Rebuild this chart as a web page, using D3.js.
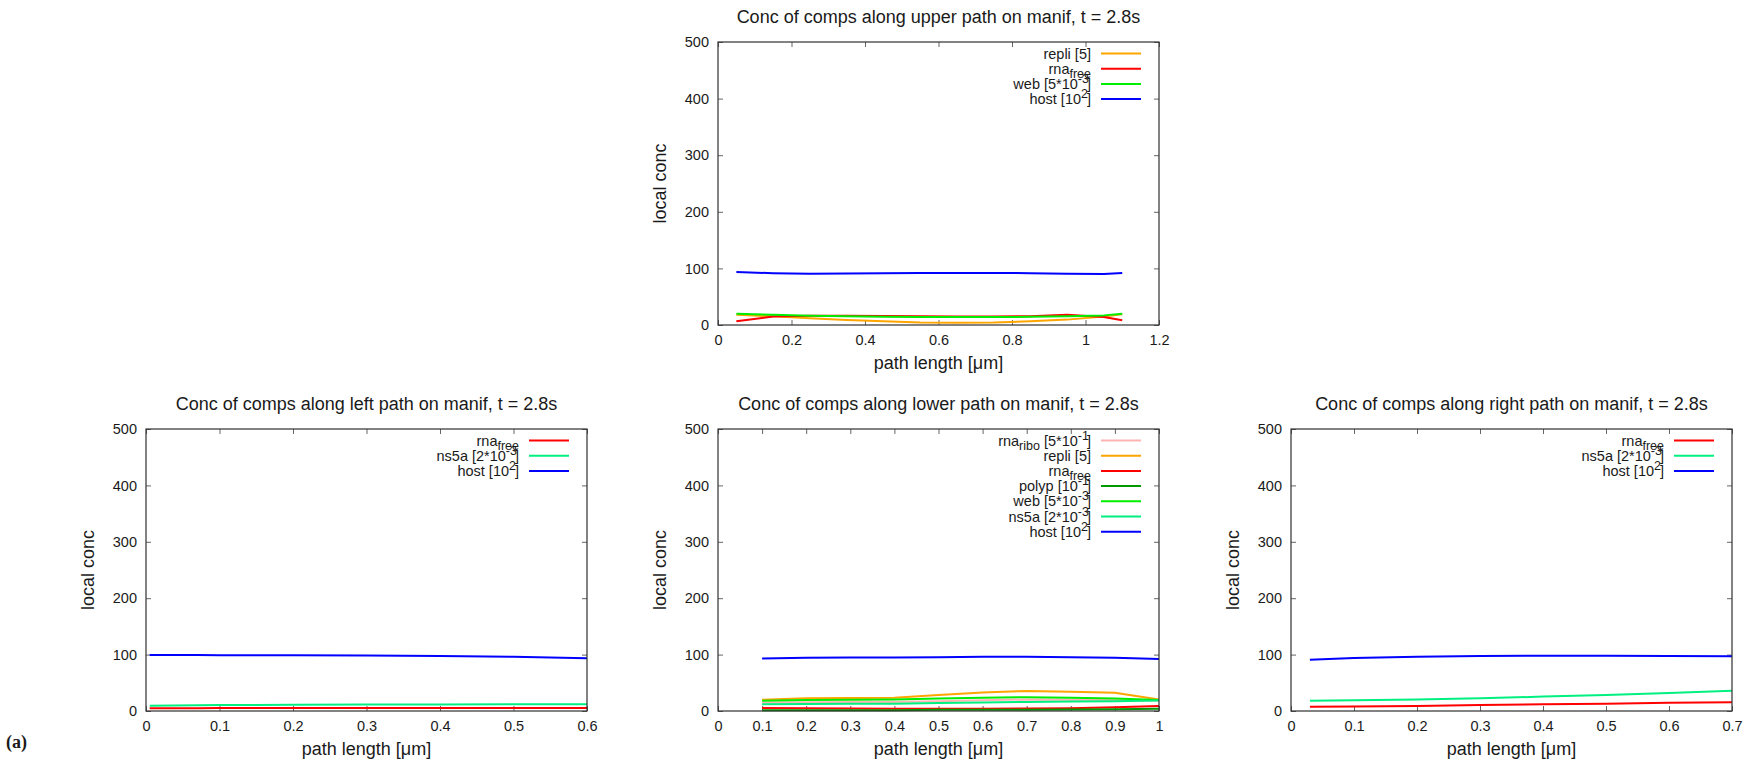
<!DOCTYPE html>
<html><head><meta charset="utf-8">
<script src="https://cdn.jsdelivr.net/npm/d3@7"></script>
<style>
html,body{margin:0;padding:0;background:#fff;}
svg{display:block;}
text{font-family:"Liberation Sans",Arial,sans-serif;fill:#1a1a1a;}
</style></head>
<body>
<svg id="chart" width="1755" height="765"></svg>
<script>
// ---------------- DATA ----------------
const yTicks = [0, 100, 200, 300, 400, 500];

// upper path
const upperTitle = "Conc of comps along upper path on manif, t = 2.8s";
const upperXTicks = [0, 0.2, 0.4, 0.6, 0.8, 1, 1.2];
const upperX     = [0.05, 0.15, 0.25, 0.35, 0.45, 0.55, 0.65, 0.75, 0.85, 0.95, 1.05, 1.1];
const upperRepli = [18, 15.5, 12, 9, 6.5, 4.5, 4, 4.5, 6.5, 9.5, 15, 19];
const upperRnaFree = [6.5, 15, 16.5, 16.5, 16, 15.5, 15, 15, 15.5, 18, 14, 8.5];
const upperWeb   = [20, 18, 16.5, 15.5, 14.5, 14, 14, 14, 14.5, 15.5, 17, 20];
const upperHost  = [93.5, 91.5, 90.5, 91, 91.5, 92, 92, 92, 91.5, 90.5, 90, 92];

// left path
const leftTitle = "Conc of comps along left path on manif, t = 2.8s";
const leftXTicks = [0, 0.1, 0.2, 0.3, 0.4, 0.5, 0.6];
const leftX       = [0.005, 0.07, 0.1, 0.2, 0.3, 0.4, 0.5, 0.6];
const leftRnaFree = [5, 5, 5.5, 5.5, 5.5, 5.5, 5.5, 5.5];
const leftNs5a    = [9.5, 10, 10.5, 11, 11.5, 11.5, 12, 12];
const leftHost    = [99.5, 99.5, 99, 99, 98.5, 97.5, 96, 93.5];

// lower path
const lowerTitle = "Conc of comps along lower path on manif, t = 2.8s";
const lowerXTicks = [0, 0.1, 0.2, 0.3, 0.4, 0.5, 0.6, 0.7, 0.8, 0.9, 1];
const lowerX       = [0.1, 0.2, 0.3, 0.4, 0.5, 0.6, 0.7, 0.8, 0.9, 1.0];
const lowerRnaRibo = [15, 15.5, 16, 16, 17.5, 19, 20.5, 20, 19.5, 18.5];
const lowerRepli   = [20, 22.5, 23, 23.5, 28.5, 33, 35.5, 34, 32.5, 20.5];
const lowerRnaFree = [5.5, 5, 4.5, 4, 4, 4, 4.5, 5, 6.5, 9];
const lowerPolyp   = [1.5, 1.5, 1.5, 1.5, 2, 2, 2, 2.5, 3, 4];
const lowerWeb     = [18, 19.5, 20, 20.5, 22, 23.5, 24.5, 23.5, 22, 19.5];
const lowerNs5a    = [12, 12.5, 13, 13, 14, 15, 16, 17, 17.5, 18.5];
const lowerHost    = [93, 94.5, 95, 95, 95.5, 96, 96, 95.5, 94.5, 92];

// right path
const rightTitle = "Conc of comps along right path on manif, t = 2.8s";
const rightXTicks = [0, 0.1, 0.2, 0.3, 0.4, 0.5, 0.6, 0.7];
const rightX       = [0.03, 0.1, 0.2, 0.3, 0.4, 0.5, 0.6, 0.7];
const rightRnaFree = [7.5, 8, 9, 10.5, 12, 13, 14.5, 15.5];
const rightNs5a    = [18, 19, 20.5, 22.5, 25.5, 28.5, 32, 36];
const rightHost    = [91, 94, 96, 97.5, 98, 98, 97.5, 97];

// legend labels: segments [text, mode] with mode "", "sub", "sup", "]"
const lblRepli   = [["repli [5]", ""]];
const lblRnaFree = [["rna", ""], ["free", "sub"]];
const lblRnaRibo = [["rna", ""], ["ribo", "sub"], [" [5*10", ""], ["-1", "sup"], ["]", "]"]];
const lblPolyp   = [["polyp [10", ""], ["-1", "sup"], ["]", "]"]];
const lblWeb     = [["web [5*10", ""], ["-3", "sup"], ["]", "]"]];
const lblNs5a    = [["ns5a [2*10", ""], ["-3", "sup"], ["]", "]"]];
const lblHost    = [["host [10", ""], ["2", "sup"], ["]", "]"]];

const xLabel = "path length [\u03bcm]";
const yLabel = "local conc";

// ---------------- STYLE ----------------
const C = {
  repli: "#ffa500", rnaFree: "#ff0000", web: "#00ee00", host: "#0000ff",
  rnaRibo: "#ffb4b4", polyp: "#009a00", ns5a: "#00f080"
};

const panels = [
  {title: upperTitle, left: 718, top: 42, width: 441, height: 283, xDomain: [0, 1.2], xTicks: upperXTicks, x: upperX,
   series: [[upperRepli, C.repli, lblRepli], [upperRnaFree, C.rnaFree, lblRnaFree], [upperWeb, C.web, lblWeb], [upperHost, C.host, lblHost]]},
  {title: leftTitle, left: 146, top: 429, width: 441, height: 282, xDomain: [0, 0.6], xTicks: leftXTicks, x: leftX,
   series: [[leftRnaFree, C.rnaFree, lblRnaFree], [leftNs5a, C.ns5a, lblNs5a], [leftHost, C.host, lblHost]]},
  {title: lowerTitle, left: 718, top: 429, width: 441, height: 282, xDomain: [0, 1], xTicks: lowerXTicks, x: lowerX,
   series: [[lowerRnaRibo, C.rnaRibo, lblRnaRibo], [lowerRepli, C.repli, lblRepli], [lowerRnaFree, C.rnaFree, lblRnaFree],
            [lowerPolyp, C.polyp, lblPolyp], [lowerWeb, C.web, lblWeb], [lowerNs5a, C.ns5a, lblNs5a], [lowerHost, C.host, lblHost]]},
  {title: rightTitle, left: 1291, top: 429, width: 441, height: 282, xDomain: [0, 0.7], xTicks: rightXTicks, x: rightX,
   series: [[rightRnaFree, C.rnaFree, lblRnaFree], [rightNs5a, C.ns5a, lblNs5a], [rightHost, C.host, lblHost]]}
];

const svg = d3.select("#chart");
const fmt = d => String(+d.toFixed(2));

panels.forEach(p => {
  const g = svg.append("g").attr("transform", `translate(${p.left},${p.top})`);
  const w = p.width, h = p.height;
  const x = d3.scaleLinear().domain(p.xDomain).range([0, w]);
  const y = d3.scaleLinear().domain([0, 500]).range([h, 0]);

  const styleAxis = sel => {
    sel.select(".domain").remove();
    sel.selectAll(".tick line").attr("stroke", "#666").attr("stroke-width", 1);
    sel.selectAll(".tick text").style("font-family", '"Liberation Sans",Arial,sans-serif').style("font-size", "14.5px").attr("fill", "#1a1a1a");
  };
  g.append("g").attr("transform", `translate(0,${h})`)
    .call(d3.axisBottom(x).tickValues(p.xTicks).tickFormat(fmt).tickSizeInner(-5).tickSizeOuter(0).tickPadding(10)).call(styleAxis);
  g.append("g")
    .call(d3.axisTop(x).tickValues(p.xTicks).tickFormat("").tickSizeInner(-5).tickSizeOuter(0)).call(styleAxis);
  g.append("g")
    .call(d3.axisLeft(y).tickValues(yTicks).tickFormat(d3.format("d")).tickSizeInner(-5).tickSizeOuter(0).tickPadding(9)).call(styleAxis);
  g.append("g").attr("transform", `translate(${w},0)`)
    .call(d3.axisRight(y).tickValues(yTicks).tickFormat("").tickSizeInner(-5).tickSizeOuter(0)).call(styleAxis);

  // data lines
  const line = d3.line().x(d => x(d[0])).y(d => y(d[1]));
  p.series.forEach(s => {
    const pts = p.x.map((xv, i) => [xv, s[0][i]]);
    g.append("path").datum(pts).attr("d", line)
      .attr("fill", "none").attr("stroke", s[1]).attr("stroke-width", 2).attr("stroke-linejoin", "round");
  });

  // frame
  g.append("rect").attr("x", 0).attr("y", 0).attr("width", w).attr("height", h)
    .attr("fill", "none").attr("stroke", "#303030").attr("stroke-width", 1.2);

  // legend
  p.series.forEach((s, i) => {
    const cy = 11.5 + i * 15.2;
    g.append("line").attr("x1", w - 58).attr("x2", w - 18).attr("y1", cy).attr("y2", cy)
      .attr("stroke", s[1]).attr("stroke-width", 2);
    const t = g.append("text").attr("x", w - 68).attr("y", cy + 5).attr("text-anchor", "end")
      .style("font-size", "14.5px");
    let shift = 0, lastSup = "";
    s[2].forEach(seg => {
      const ts = t.append("tspan").text(seg[0]);
      if (seg[1] === "sub") { ts.attr("dy", 4 - shift).style("font-size", "12.5px"); shift = 4; }
      else if (seg[1] === "sup") { ts.attr("dy", -6 - shift).style("font-size", "12.5px"); shift = -6; lastSup = seg[0]; }
      else if (seg[1] === "]") { ts.attr("dy", -shift).attr("dx", lastSup.length > 1 ? -2 : -1); shift = 0; }
      else { if (shift) ts.attr("dy", -shift); shift = 0; }
    });
  });

  // titles and axis labels
  g.append("text").attr("x", w / 2).attr("y", -19).attr("text-anchor", "middle").style("font-size", "18px").text(p.title);
  g.append("text").attr("x", w / 2).attr("y", h + 44).attr("text-anchor", "middle").style("font-size", "18px").text(xLabel);
  g.append("text").attr("transform", `translate(-52,${h / 2}) rotate(-90)`).attr("text-anchor", "middle").style("font-size", "18px").text(yLabel);
});

svg.append("text").attr("x", 6).attr("y", 748)
  .style("font-family", '"Liberation Serif","DejaVu Serif",serif').style("font-weight", "bold").style("font-size", "18px").text("(a)");
</script>
</body></html>
